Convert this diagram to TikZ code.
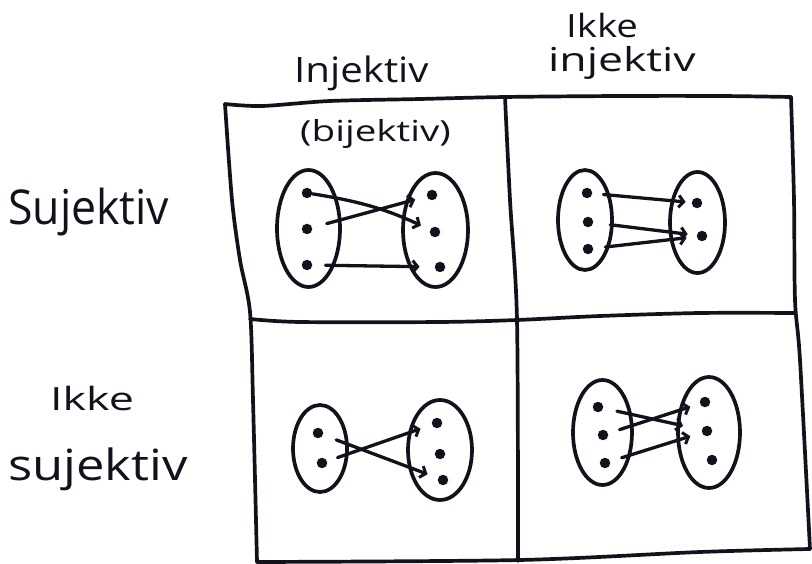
\documentclass[tikz,border=0pt]{standalone}
\usepackage{fontspec}
\setmainfont{Open Sans}
\usetikzlibrary{shapes.geometric,arrows.meta}
\definecolor{ink}{RGB}{18,18,28}
\newcommand\hw[3]{\scalebox{#2}[1]{\fontsize{#1}{#1}\selectfont #3}}
\tikzset{
  pen/.style={draw=ink, line width=3.7pt, line cap=round, line join=round},
  setbox/.style={ellipse, draw=ink, line width=3.7pt, inner sep=0pt},
  pt/.style={circle, fill=ink, inner sep=0pt, minimum size=10.5pt},
  maparrow/.style={pen, line width=3.3pt, -{Straight Barb[length=5pt,width=12pt,line width=3pt]}},
  lbl/.style={anchor=base west, inner sep=0pt, text=ink}
}
\begin{document}
\begin{tikzpicture}[x=1pt,y=-1pt]
\useasboundingbox[fill=white] (0,0) rectangle (812,564);

% grid
\draw[pen] plot[smooth] coordinates {(225,104)(262,106)(330,101)(420,99)(505,97)(620,96)(720,96)(791,97)};
\draw[pen] plot[smooth] coordinates {(225,104)(232,200)(240,260)(250,312)(253,400)(257,562)};
\draw[pen] plot[smooth] coordinates {(791,97)(794,200)(795,300)(800,360)(810,549)};
\draw[pen] plot[smooth] coordinates {(257,562)(520,560)(700,552)(810,549)};
\draw[pen] plot[smooth] coordinates {(250,319)(300,322)(440,322)(517,320)(600,316)(700,313)(795,313)};
\draw[pen] plot[smooth] coordinates {(505,97)(510,200)(517,320)(518,561)};

% labels
\node[lbl] (tInj) at (294,83) {\hw{35}{1.15}{Injektiv}};
\node[lbl] (tIkkeT) at (566,38) {\hw{32}{1.2}{Ikke}};
\node[lbl] (tinj) at (548,72) {\hw{33}{1.35}{injektiv}};
\node[lbl] (tbij) at (300,142) {\hw{29}{1.33}{(bijektiv)}};
\node[lbl] (tSur) at (8,225) {\hw{48}{0.93}{Sujektiv}};
\node[lbl] (tIkkeL) at (50,410) {\hw{32}{1.4}{Ikke}};
\node[lbl] (tsur) at (8,480) {\hw{43}{1.18}{sujektiv}};

% Q1 (top-left)
\node[setbox, minimum width=63pt, minimum height=117pt] (A1) at (308.5,228.5) {};
\node[setbox, minimum width=65pt, minimum height=114pt] (B1) at (435.5,230) {};
\node[pt] (L1a) at (307,193) {};
\node[pt] (L1b) at (307,229) {};
\node[pt] (L1c) at (307,265) {};
\node[pt] (R1a) at (432,195) {};
\node[pt] (R1b) at (435,232) {};
\node[pt] (R1c) at (440,267) {};
\draw[maparrow, shorten >=10pt] (L1a) to[bend left=8] (R1b);
\draw[maparrow, shorten <=15pt, shorten >=12pt] (L1b) -- (R1a);
\draw[maparrow, shorten <=13pt, shorten >=15pt] (L1c) -- (R1c);

% Q2 (top-right)
\node[setbox, minimum width=54pt, minimum height=100pt] (A2) at (585,220) {};
\node[setbox, minimum width=55pt, minimum height=101pt] (B2) at (697.5,222.5) {};
\node[pt] (L2a) at (587,193) {};
\node[pt] (L2b) at (588,222) {};
\node[pt] (L2c) at (588,249) {};
\node[pt] (R2a) at (697,203) {};
\node[pt] (R2b) at (702,236) {};
\draw[maparrow, shorten <=11pt, shorten >=6pt] (L2a) -- (R2a);
\draw[maparrow, shorten <=17pt, shorten >=9pt] (L2b) -- (R2b);
\draw[maparrow, shorten <=12pt, shorten >=10pt] (L2c) -- (R2b);

% Q3 (bottom-left)
\node[setbox, minimum width=54pt, minimum height=87pt] (A3) at (320,448.5) {};
\node[setbox, minimum width=64pt, minimum height=100pt] (B3) at (440,450) {};
\node[pt] (L3a) at (318,433) {};
\node[pt] (L3b) at (322,463) {};
\node[pt] (R3a) at (437,423) {};
\node[pt] (R3b) at (440,454) {};
\node[pt] (R3c) at (443,480) {};
\draw[maparrow, shorten <=14pt, shorten >=11pt] (L3a) -- (R3c);
\draw[maparrow, shorten <=11pt, shorten >=12pt] (L3b) -- (R3a);

% Q4 (bottom-right)
\node[setbox, minimum width=59pt, minimum height=105pt] (A4) at (602.5,432.5) {};
\node[setbox, minimum width=62pt, minimum height=111pt] (B4) at (709,432.5) {};
\node[pt] (L4a) at (598,407) {};
\node[pt] (L4b) at (603,435) {};
\node[pt] (L4c) at (605,463) {};
\node[pt] (R4a) at (705,402) {};
\node[pt] (R4b) at (707,431) {};
\node[pt] (R4c) at (712,460) {};
\draw[maparrow, shorten <=14pt, shorten >=19pt] (L4a) -- (R4b);
\draw[maparrow, shorten <=12pt, shorten >=10pt] (L4b) -- (R4a);
\draw[maparrow, shorten <=12pt, shorten >=12pt] (L4c) -- (R4b);
\end{tikzpicture}
\end{document}
